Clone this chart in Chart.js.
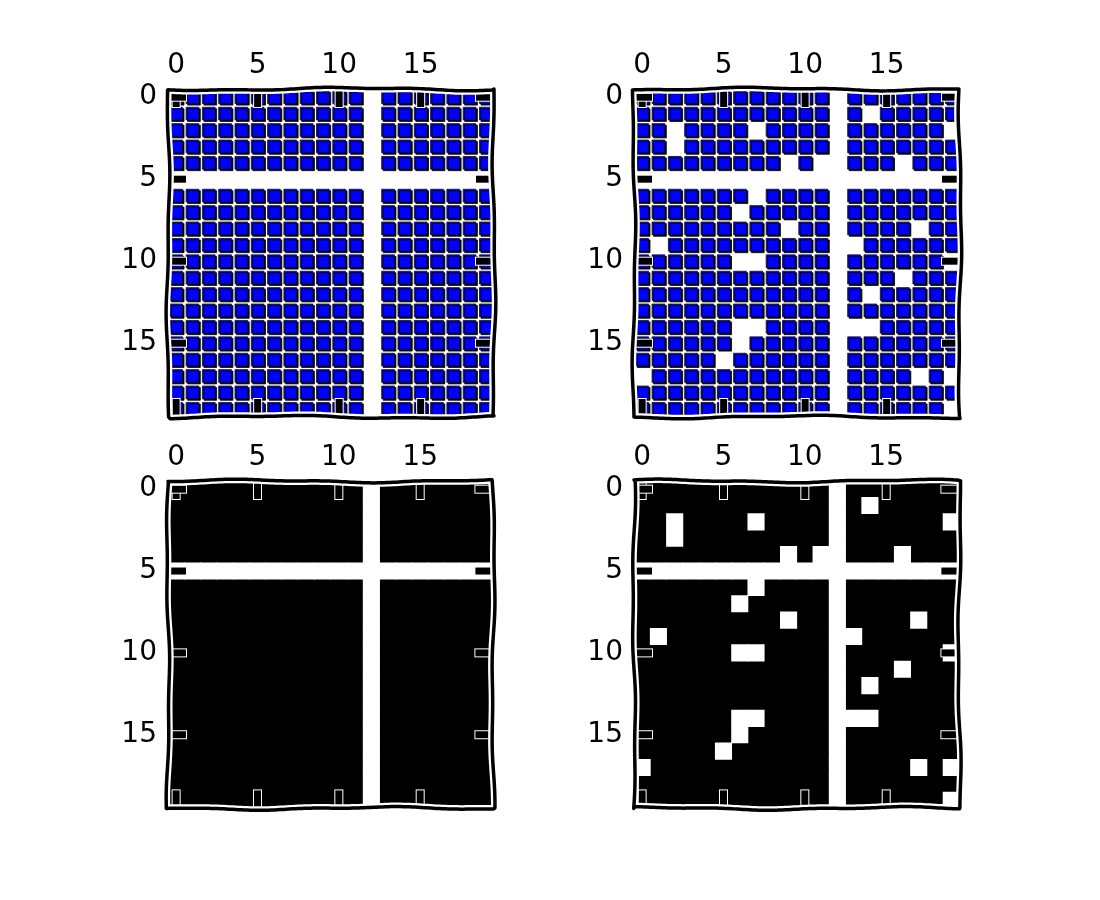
<!DOCTYPE html>
<html><head><meta charset="utf-8">
<script src="https://cdn.jsdelivr.net/npm/chart.js@4/dist/chart.umd.min.js"></script>
<style>
html,body{margin:0;padding:0;background:#fff;}
#fig{position:relative;width:1100px;height:900px;overflow:hidden;background:#fff;}
canvas{position:absolute;}
</style></head><body>
<div id="fig">
<canvas id="c1"></canvas><canvas id="c2"></canvas><canvas id="c3"></canvas><canvas id="c4"></canvas>
</div>
<script>
// ---- data: 20x20 matrix ----
const nRows = 20;
const nCols = 20;
const zeroRows = [5];          // rows that are exactly zero
const zeroCols = [12];         // columns that are exactly zero
// entries whose magnitude is below the 0.1 precision threshold [row, col]
const smallEntries = [
  [1,14],[2,2],[2,7],[2,19],[3,2],[4,9],[4,11],[4,16],[6,7],[7,6],
  [8,9],[8,17],[9,1],[9,13],[10,6],[10,7],[10,19],[11,16],[12,14],
  [14,6],[14,7],[14,13],[14,14],[15,6],[16,5],[17,0],[17,17],[17,19],[19,19]
];
const tickValues = [0, 5, 10, 15];
const tickLabels = ['0', '5', '10', '15'];

function isNonzero(r, c) { return !zeroRows.includes(r) && !zeroCols.includes(c); }
function isAbovePrecision(r, c) {
  return isNonzero(r, c) && !smallEntries.some(e => e[0] === r && e[1] === c);
}
function cells(test, want) {
  const out = [];
  for (let r = 0; r < nRows; r++) for (let c = 0; c < nCols; c++) if (test(r, c) === want) out.push({x: c, y: r});
  return out;
}

const areaW = 326, areaH = 328, padL = 60, padT = 60, padR = 12, padB = 12;
const panels = [
  {id: 'c1', left: 168, top: 89, mode: 'marker', test: isNonzero, phase: 0.3},
  {id: 'c2', left: 634, top: 89, mode: 'marker', test: isAbovePrecision, phase: 1.7},
  {id: 'c3', left: 168, top: 481, mode: 'image', test: isNonzero, phase: 2.9},
  {id: 'c4', left: 634, top: 481, mode: 'image', test: isAbovePrecision, phase: 4.1},
];

const labelFont = {family: "'DejaVu Sans', sans-serif", size: 28};

function wob(s, k) { return 1.3 * Math.sin(s / 41 + k) + 0.6 * Math.sin(s / 15 + 2.3 * k); }

const shadowPlugin = {
  id: 'shadowPlugin',
  beforeDatasetsDraw(chart) {
    if (chart.options.plugins.shadowPlugin && chart.options.plugins.shadowPlugin.on) {
      const ctx = chart.ctx;
      ctx.save();
      ctx.shadowColor = 'rgba(0,0,0,1)';
      ctx.shadowOffsetX = 1.5;
      ctx.shadowOffsetY = 1.5;
      ctx.shadowBlur = 0;
    }
  },
  afterDatasetsDraw(chart) {
    if (chart.options.plugins.shadowPlugin && chart.options.plugins.shadowPlugin.on) chart.ctx.restore();
  }
};

const framePlugin = {
  id: 'framePlugin',
  afterDraw(chart) {
    const ctx = chart.ctx, a = chart.chartArea, xs = chart.scales.x, ys = chart.scales.y;
    const k = chart.options.plugins.framePlugin.phase;
    ctx.save();
    ctx.beginPath();
    ctx.rect(a.left - 6, a.top - 6, a.right - a.left + 12, a.bottom - a.top + 12);
    ctx.clip();
    // tick marks, pointing inward on all four sides
    const L = 18, W = 7;
    ctx.lineWidth = 2; ctx.strokeStyle = '#fff'; ctx.fillStyle = '#000';
    const bar = (x, y, w, h) => { ctx.strokeRect(x, y, w, h); ctx.fillRect(x, y, w, h); };
    tickValues.forEach(v => {
      const px = xs.getPixelForValue(v);
      bar(px - W / 2, a.top, W, L);
      bar(px - W / 2, a.bottom - L, W, L);
      const py = ys.getPixelForValue(v);
      bar(a.left, py - W / 2, L, W);
      bar(a.right - L, py - W / 2, L, W);
    });
    ctx.restore();
    // wobbly frame
    ctx.save();
    ctx.beginPath();
    const step = 3;
    let s = 0;
    for (let x = a.left; x <= a.right; x += step, s += step) { const y = a.top + wob(s, k); x === a.left ? ctx.moveTo(x, y) : ctx.lineTo(x, y); }
    for (let y = a.top; y <= a.bottom; y += step, s += step) ctx.lineTo(a.right + wob(s, k + 1), y);
    for (let x = a.right; x >= a.left; x -= step, s += step) ctx.lineTo(x, a.bottom + wob(s, k + 2));
    for (let y = a.bottom; y >= a.top; y -= step, s += step) ctx.lineTo(a.left + wob(s, k + 3), y);
    ctx.closePath();
    ctx.lineJoin = 'round';
    ctx.strokeStyle = '#fff'; ctx.lineWidth = 8; ctx.stroke();
    ctx.strokeStyle = '#000'; ctx.lineWidth = 3.5; ctx.stroke();
    ctx.restore();
  }
};

const noPad = s => { s.paddingTop = 0; s.paddingBottom = 0; s.paddingLeft = 0; s.paddingRight = 0; };

panels.forEach(p => {
  const cv = document.getElementById(p.id);
  cv.width = padL + areaW + padR;
  cv.height = padT + areaH + padB;
  cv.style.left = (p.left - padL) + 'px';
  cv.style.top = (p.top - padT) + 'px';
  const marker = p.mode === 'marker';
  const setTicks = s => { s.ticks = tickValues.map(v => ({value: v})); };
  const fmt = v => tickLabels[tickValues.indexOf(v)] ?? '';
  const pointSet = (data, color, radius, bw, bc, order) => ({
    data, pointStyle: 'rect', pointRadius: radius, pointHoverRadius: radius,
    backgroundColor: color, borderColor: bc,
    borderWidth: bw, pointBorderWidth: bw, pointHoverBorderWidth: bw, order
  });
  const datasets = marker
    ? [pointSet(cells(p.test, true), '#0000ff', 9.0, 0.8, '#111111', 0)]
    : [pointSet(cells(p.test, false), '#ffffff', 12.1, 0, '#000000', 0),
       pointSet(cells(p.test, true), '#000000', 12.6, 0, '#000000', 1)];
  new Chart(cv.getContext('2d'), {
    type: 'scatter',
    data: {datasets},
    options: {
      responsive: false,
      animation: false,
      events: [],
      devicePixelRatio: 1,
      layout: {padding: {left: 0, top: 0, right: padR, bottom: padB}},
      plugins: {
        legend: {display: false},
        tooltip: {enabled: false},
        framePlugin: {phase: p.phase},
        shadowPlugin: {on: marker}
      },
      scales: {
        x: {
          type: 'linear', position: 'top', min: -0.5, max: 19.5,
          grid: {display: false, drawTicks: false},
          border: {display: false},
          ticks: {font: labelFont, color: '#000', padding: 6, maxRotation: 0, autoSkip: false, callback: fmt},
          afterBuildTicks: setTicks,
          afterFit: s => { s.height = padT; noPad(s); }
        },
        y: {
          type: 'linear', position: 'left', reverse: true, min: -0.5, max: 19.5,
          grid: {display: false, drawTicks: false},
          border: {display: false},
          ticks: {font: labelFont, color: '#000', padding: 11, autoSkip: false, callback: fmt},
          afterBuildTicks: setTicks,
          afterFit: s => { s.width = padL; noPad(s); }
        }
      }
    },
    plugins: [shadowPlugin, framePlugin]
  });
});
</script>
</body></html>
